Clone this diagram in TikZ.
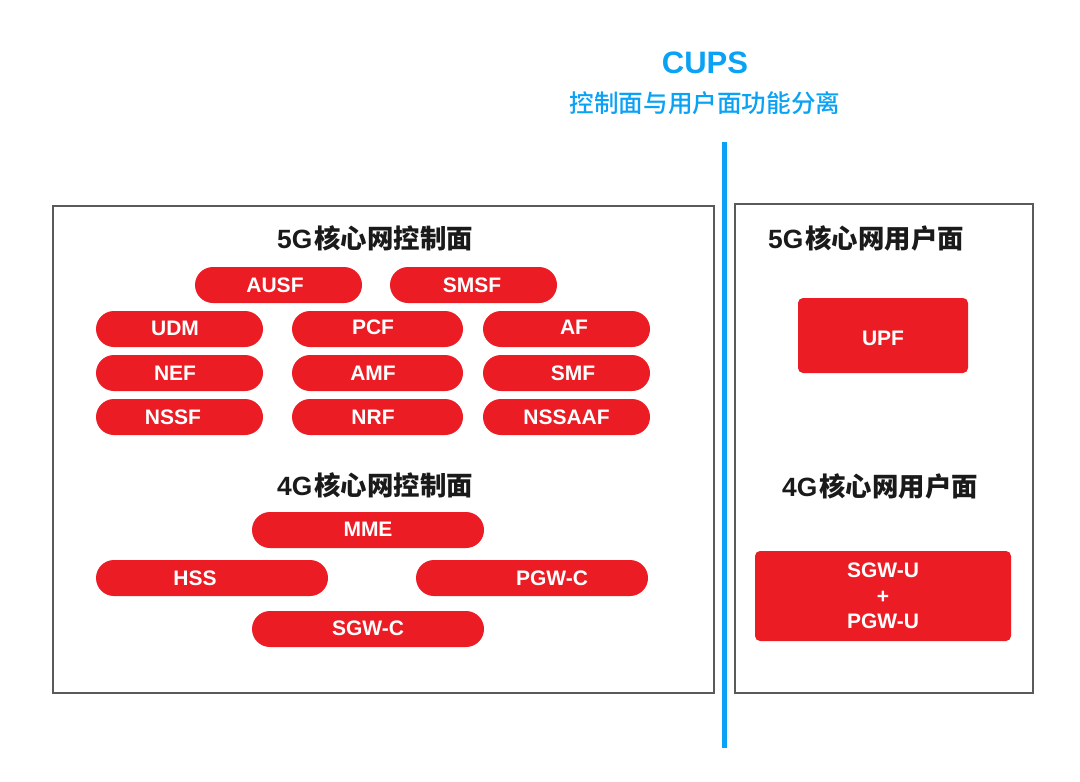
\documentclass[tikz,border=0pt]{standalone}
\usepackage{fontspec}
\setmainfont{Liberation Sans}
\newfontfamily\cjk{Noto Sans CJK SC}[UprightFont=* Medium]
\newfontfamily\cjkh{Noto Sans CJK SC}
\definecolor{cred}{HTML}{EC1C24}
\definecolor{cblue}{HTML}{0AA2F5}
\definecolor{cgray}{HTML}{5A5A5A}
\definecolor{chdr}{HTML}{1A1A1A}
\newcommand{\hd}[2]{{\bfseries #1\hspace{1pt}}{\cjkh\bfseries #2}}
\begin{document}
\begin{tikzpicture}[x=0.5pt,y=-0.5pt,
  panel/.style={draw=cgray, line width=1pt, fill=white, inner sep=0pt},
  pill/.style={fill=cred, rounded corners=9pt, minimum height=18pt, inner sep=0pt, draw=none},
  ptxt/.style={text=white, font=\bfseries\fontsize{10.5}{12.75}\selectfont, inner sep=0pt, align=center},
  hdr/.style={font=\fontsize{13.2}{16}\selectfont, text=chdr, inner sep=0pt},
  ubox/.style={fill=cred, rounded corners=2.5pt, inner sep=0pt, draw=none}]
\useasboundingbox (0,0) rectangle (1080,781);
\fill[white] (0,0) rectangle (1080,781);

% panels
\node[panel, anchor=north west, minimum width=330.5pt, minimum height=243.5pt] (cp) at (52,205) {};
\node[panel, anchor=north west, minimum width=149pt, minimum height=244.5pt] (up) at (734,203) {};

% separator
\coordinate (lt) at (724.5,142);
\coordinate (lb) at (724.5,748);
\draw[cblue, line width=2.5pt] (lt) -- (lb);

% titles
\node[text=cblue, font=\bfseries\fontsize{15.5}{18}\selectfont, inner sep=0pt] (cups) at (705,63) {CUPS};
\node[text=cblue, font=\cjk\fontsize{12.3}{14}\selectfont, inner sep=0pt] (sub) at (705,103) {控制面与用户面功能分离};

% headers
\node[hdr] (h5c) at (375,238) {\hd{5G}{核心网控制面}};
\node[hdr] (h4c) at (375,485) {\hd{4G}{核心网控制面}};
\node[hdr] (h5u) at (866,238) {\hd{5G}{核心网用户面}};
\node[hdr] (h4u) at (880,486) {\hd{4G}{核心网用户面}};

% 5G control plane
\node[pill, minimum width=83.5pt] (ausf) at (278.5,285) {};
\node[ptxt] (ausfT) at ([xshift=-1.75pt]ausf.center) {AUSF};
\node[pill, minimum width=83.5pt] (smsf) at (473.5,285) {};
\node[ptxt] (smsfT) at ([xshift=-0.75pt]smsf.center) {SMSF};

\node[pill, minimum width=83.5pt] (udm) at (179.5,329) {};
\node[ptxt] (udmT) at ([xshift=-2.25pt,yshift=0.5pt]udm.center) {UDM};
\node[pill, minimum width=85.5pt] (pcf) at (377.5,329) {};
\node[ptxt] (pcfT) at ([xshift=-2.25pt,yshift=1pt]pcf.center) {PCF};
\node[pill, minimum width=83.5pt] (af) at (566.5,329) {};
\node[ptxt] (afT) at ([xshift=3.75pt,yshift=1pt]af.center) {AF};

\node[pill, minimum width=83.5pt] (nef) at (179.5,373) {};
\node[ptxt] (nefT) at ([xshift=-2.25pt]nef.center) {NEF};
\node[pill, minimum width=85.5pt] (amf) at (377.5,373) {};
\node[ptxt] (amfT) at ([xshift=-2.25pt]amf.center) {AMF};
\node[pill, minimum width=83.5pt] (smf) at (566.5,373) {};
\node[ptxt] (smfT) at ([xshift=3.25pt]smf.center) {SMF};

\node[pill, minimum width=83.5pt] (nssf) at (179.5,417) {};
\node[ptxt] (nssfT) at ([xshift=-3.25pt]nssf.center) {NSSF};
\node[pill, minimum width=85.5pt] (nrf) at (377.5,417) {};
\node[ptxt] (nrfT) at ([xshift=-2.25pt]nrf.center) {NRF};
\node[pill, minimum width=83.5pt] (nssaaf) at (566.5,417) {};
\node[ptxt] (nssaafT) at (nssaaf.center) {NSSAAF};

% 4G control plane
\node[pill, minimum width=116pt] (mme) at (368,530) {};
\node[ptxt] (mmeT) at ([yshift=0.5pt]mme.center) {MME};
\node[pill, minimum width=116pt] (hss) at (212,578) {};
\node[ptxt] (hssT) at ([xshift=-8.5pt]hss.center) {HSS};
\node[pill, minimum width=116pt] (pgwc) at (532,578) {};
\node[ptxt] (pgwcT) at ([xshift=10pt]pgwc.center) {PGW-C};
\node[pill, minimum width=116pt] (sgwc) at (368,629) {};
\node[ptxt] (sgwcT) at ([yshift=0.5pt]sgwc.center) {SGW-C};

% user plane
\node[ubox, minimum width=85pt, minimum height=37.5pt] (upf) at (883,335.5) {};
\node[ptxt] (upfT) at ([yshift=-1.25pt]upf.center) {UPF};
\node[ubox, minimum width=128pt, minimum height=45pt] (sgwu) at (883,596) {};
\node[ptxt] (sgwuT) at (sgwu.center) {SGW-U\\+\\PGW-U};
\end{tikzpicture}
\end{document}
